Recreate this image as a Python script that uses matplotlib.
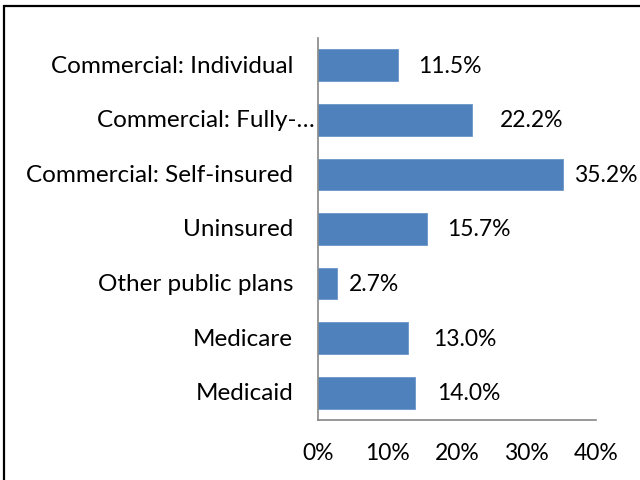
import matplotlib
matplotlib.use("Agg")
import matplotlib.pyplot as plt
from matplotlib.patches import Rectangle
import matplotlib.transforms as mtransforms

categories = ["Medicaid", "Medicare", "Other public plans", "Uninsured",
              "Commercial: Self-insured", "Commercial: Fully-\u2026",
              "Commercial: Individual"]
values = [14.0, 13.0, 2.7, 15.7, 35.2, 22.2, 11.5]
value_labels = ["14.0%", "13.0%", "2.7%", "15.7%", "35.2%", "22.2%", "11.5%"]
# gap (px) between bar end and its label, as placed in the original
label_gaps = [22, 25, 12, 20, 12, 28, 20]
# extra shift (px) of the category names to the right of the usual spot
name_shift = [0, 0, 0, 0, 0, 22, 0]
xticks = [0, 10, 20, 30, 40]
xtick_labels = ["0%", "10%", "20%", "30%", "40%"]

plt.rcParams['font.family'] = ['Lato', 'DejaVu Sans']

fig = plt.figure(figsize=(6.4, 4.81), dpi=100)
ax = fig.add_axes([0.497, 0.1247, 0.434, 0.7943])

bar_color = "#4F81BD"
ax.barh(range(len(values)), values, height=0.58, color=bar_color,
        edgecolor="#6A94C8", linewidth=0.6, zorder=2)

ax.set_xlim(0, 40)
ax.set_ylim(-0.5, len(values) - 0.5)

ax.set_xticks(xticks)
ax.set_xticklabels(xtick_labels, fontsize=16.5)
ax.tick_params(axis="x", length=0, pad=16)
ax.set_yticks([])

for s in ["top", "right"]:
    ax.spines[s].set_visible(False)
for s in ["left", "bottom"]:
    ax.spines[s].set_color("#868686")
    ax.spines[s].set_linewidth(1.2)

# value labels
for i, (v, lab, gap) in enumerate(zip(values, value_labels, label_gaps)):
    off = mtransforms.offset_copy(ax.transData, fig=fig, x=gap * 0.72, y=0,
                                  units="points")
    ax.text(v, i, lab, transform=off, ha="left", va="center", fontsize=16.5)

# category names
for i, (name, sh) in enumerate(zip(categories, name_shift)):
    off = mtransforms.offset_copy(ax.get_yaxis_transform(), fig=fig,
                                  x=(-25 + sh) * 0.72, y=0, units="points")
    ax.text(0, i, name, transform=off, ha="right", va="center", fontsize=17.5)

# outer frame
fig.patches.append(Rectangle((4 / 640, -0.05), 1.1, 1 - 7 / 481 + 0.05,
                             transform=fig.transFigure, fill=False,
                             edgecolor="black", linewidth=1.6, clip_on=False))

fig.savefig("out.png", dpi=100)
